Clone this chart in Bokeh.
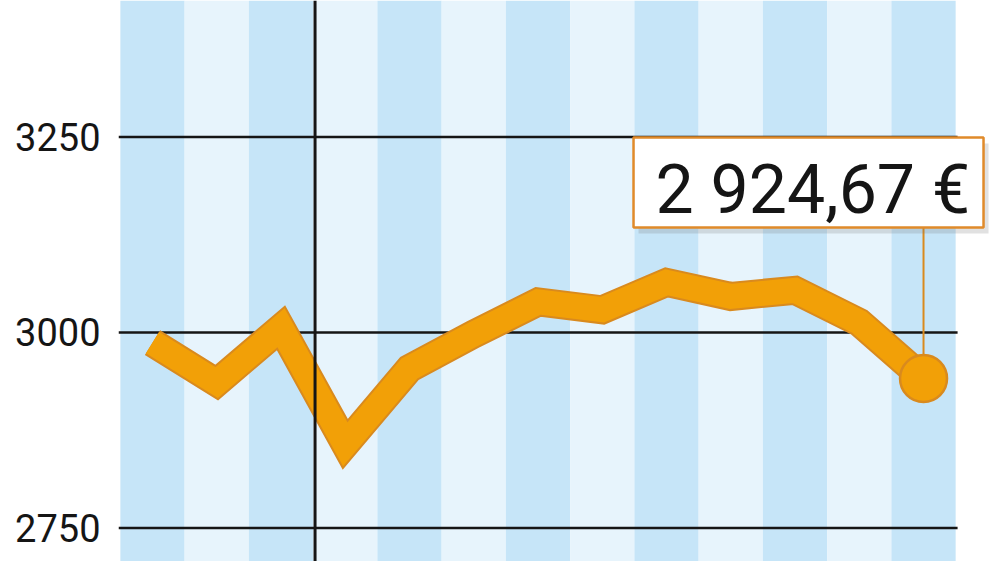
from bokeh.plotting import figure
from bokeh.models import FixedTicker, Span, Range1d
from bokeh.core.properties import value
from bokeh.embed import file_html
from bokeh.resources import INLINE

# ---- data ----
days = list(range(13))
prices = [2987, 2936, 3006, 2857, 2954, 2998, 3039, 3029, 3064, 3046, 3054, 3013, 2941]
y_ticks = [2750, 3000, 3250]
last_label = "2 924,67 €"
divider_at = 2.53

# ---- styles ----
stripe_dark = "#C6E5F8"
stripe_light = "#E7F4FC"
orange = "#F2A007"
orange_dark = "#D98A1E"
ink = "#151515"

W, H = 1000, 561
ML = 118
x_start, x_end = -0.529, 13.198
y_start, y_end = 2707.1, 3424.5
xpx = (W - ML) / (x_end - x_start)
ypx = H / (y_end - y_start)

p = figure(width=W, height=H, x_range=Range1d(x_start, x_end), y_range=Range1d(y_start, y_end),
           output_backend="svg", toolbar_location=None, x_axis_location=None,
           min_border_left=ML, min_border_right=0, min_border_top=0, min_border_bottom=0)
p.outline_line_color = None
p.grid.visible = False
p.background_fill_color = "white"

n = len(days)
# stripes
p.quad(left=[d - 0.5 for d in days], right=[d + 0.5 for d in days],
       top=[y_end] * n, bottom=[y_start] * n,
       fill_color=[stripe_dark if i % 2 == 0 else stripe_light for i in range(n)],
       line_color=None)

# horizontal grid lines at tick values
p.segment(x0=[x_start] * len(y_ticks), x1=[days[-1] + 0.53] * len(y_ticks),
          y0=y_ticks, y1=y_ticks, line_color=ink, line_width=2.5)

p.add_layout(Span(location=divider_at, dimension="height", line_color=ink, line_width=3))

# main line
p.line(days, prices, line_color=orange_dark, line_width=29, line_join="miter")
p.line(days, prices, line_color=orange, line_width=25, line_join="miter")

# label box
lx, ly = days[-1], prices[-1]
bx = lx - 115 / xpx
by = ly + 196 / ypx
bw, bh = 350, 90
p.segment(x0=[lx], y0=[ly], x1=[lx], y1=[by], line_color=orange_dark, line_width=2)
p.rect(x=[bx + 5 / xpx], y=[by - 6 / ypx], width=bw, height=bh, width_units="screen",
       height_units="screen", fill_color="#777777", fill_alpha=0.22, line_color=None)
p.rect(x=[bx], y=[by], width=bw, height=bh, width_units="screen", height_units="screen",
       fill_color="white", line_color="#E08A2A", line_width=2.5)
p.text(x=[lx], y=[ly], text=[last_label], x_offset=-268, y_offset=-189,
       text_font=value("Roboto"), text_font_size="68px", text_color=ink,
       text_align="left", text_baseline="alphabetic")

p.scatter([lx], [ly], size=47, fill_color=orange, line_color=orange_dark, line_width=2.5)

# y axis
ax = p.yaxis[0]
ax.ticker = FixedTicker(ticks=y_ticks)
ax.axis_line_color = None
ax.major_tick_line_color = None
ax.minor_tick_line_color = None
ax.major_tick_in = 0
ax.major_tick_out = 0
ax.major_label_standoff = 18
ax.major_label_text_font = "Roboto"
ax.major_label_text_font_size = "38px"
ax.major_label_text_color = ink

open("out.html", "w").write(file_html(p, INLINE))
